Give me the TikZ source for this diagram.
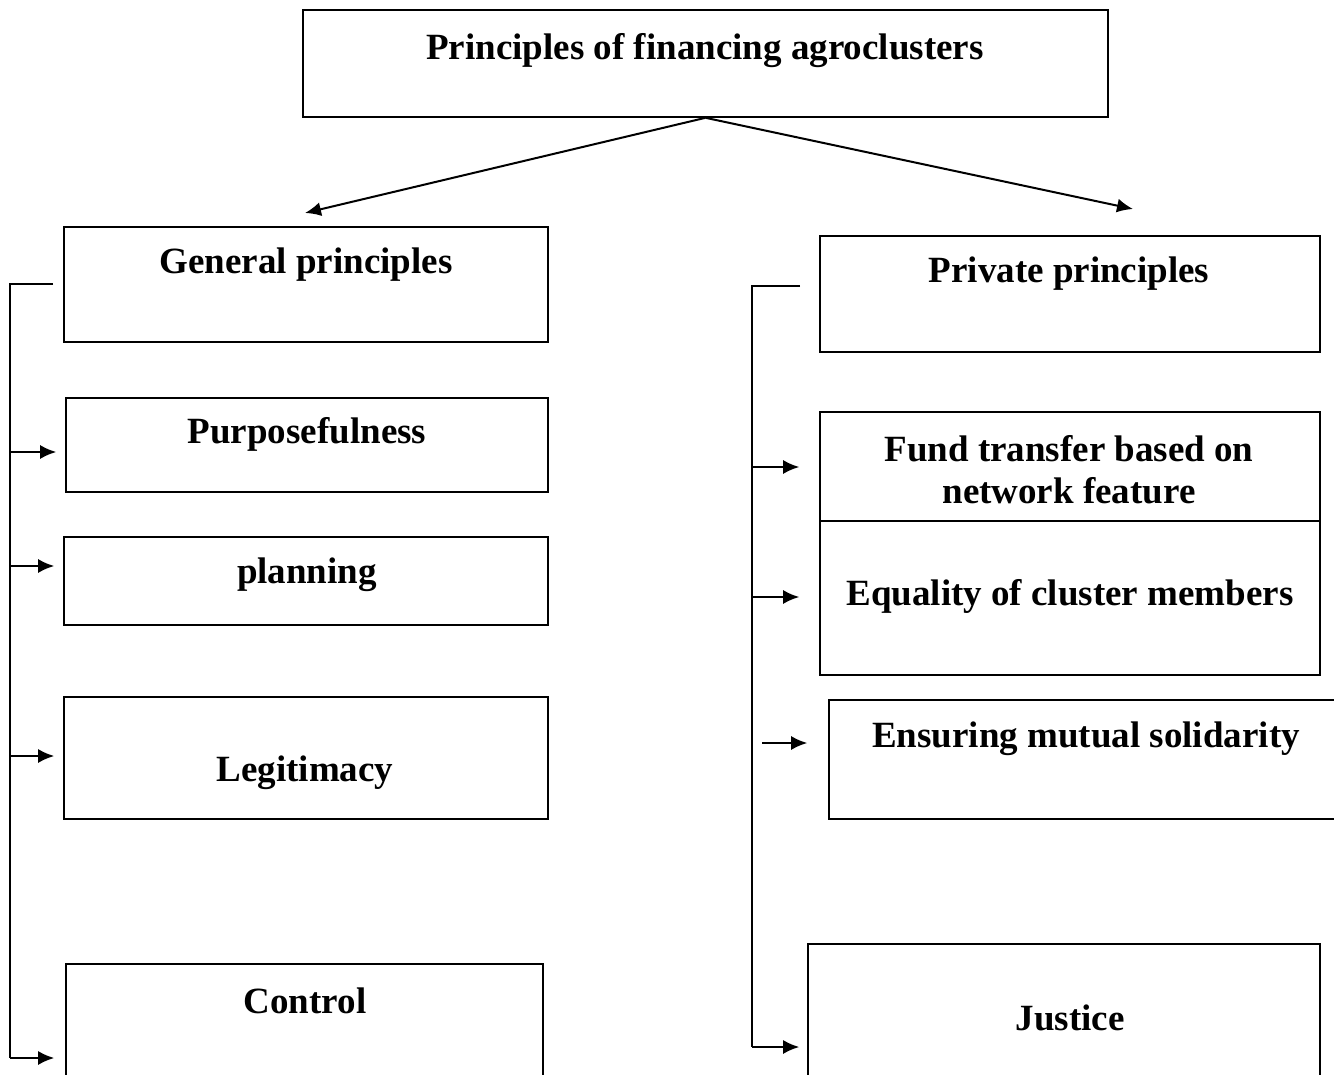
\documentclass[tikz,border=0pt]{standalone}
\usepackage{fontspec}
\setmainfont{Liberation Serif}
\usetikzlibrary{arrows.meta,fit}

\begin{document}
\begin{tikzpicture}[x=0.5pt,y=-0.5pt,line width=1pt,>={Latex[length=8pt,width=7pt]},
    box/.style={draw,inner sep=0pt,line width=0.8pt},
    lbl/.style={font=\bfseries\fontsize{18.5}{21}\selectfont,align=center}]
                \useasboundingbox (0,0) rectangle (1334,1075);
                \clip (0,0) rectangle (1334,1075);
                % top
                \node[box,fit={(303,10) (1108,117)}] (top) {};
                \node[lbl] (topt) at (705,51) {Principles of financing agroclusters};
                \coordinate (ga) at (305,213);
                \coordinate (pa) at (1133,209);
                \draw [->] (top.south) -- (ga);
                \draw [->] (top.south) -- (pa);
                % left column
                \node[box,fit={(64,227) (548,342)}] (gen) {};
                \node[lbl] (gent) at (306,265) {General principles};
                \node[box,fit={(66,398) (548,492)}] (pur) {};
                \node[lbl] (purt) at (307,434) {Purposefulness};
                \node[box,fit={(64,537) (548,625)}] (pla) {};
                \node[lbl] (plat) at (307,575) {planning};
                \node[box,fit={(64,697) (548,819)}] (leg) {};
                \node[lbl] (legt) at (305,773) {Legitimacy};
                \node[box,fit={(66,964) (543,1100)}] (con) {};
                \node[lbl] (cont) at (305,1001) {Control};
                \coordinate (l0) at (10,284);
                \coordinate (l1) at (10,452);
                \coordinate (l2) at (10,566);
                \coordinate (l3) at (10,756);
                \coordinate (l4) at (10,1058);
                \draw (53,284) -- (l0) -- (l4);
                \draw [->,shorten >=4.5pt] (l1) -- (l1 -| pur.west);
                \draw [->,shorten >=4.5pt] (l2) -- (l2 -| pla.west);
                \draw [->,shorten >=4.5pt] (l3) -- (l3 -| leg.west);
                \draw [->,shorten >=5.5pt] (l4) -- (l4 -| con.west);
                % right column
                \node[box,fit={(820,236) (1320,352)}] (pri) {};
                \node[lbl] (prit) at (1069,274) {Private principles};
                \node[box,fit={(820,412) (1320,521)}] (fun) {};
                \node[lbl] (funt) at (1069,470) {Fund transfer based on\\network feature};
                \node[box,fit={(820,521) (1320,675)}] (equ) {};
                \node[lbl] (equt) at (1070,596) {Equality of cluster members};
                \node[box,fit={(829,700) (1350,819)}] (ens) {};
                \node[lbl] (enst) at (1086,739) {Ensuring mutual solidarity};
                \node[box,fit={(808,944) (1320,1100)}] (jus) {};
                \node[lbl] (just) at (1070,1018) {Justice};
                \coordinate (r0) at (752,286);
                \coordinate (r1) at (752,467);
                \coordinate (r2) at (752,597);
                \coordinate (r3) at (762,743);
                \coordinate (r4) at (752,1047);
                \draw (800,286) -- (r0) -- (r4);
                \draw [->,shorten >=10pt] (r1) -- (r1 -| fun.west);
                \draw [->,shorten >=10pt] (r2) -- (r2 -| equ.west);
                \draw [->,shorten >=10.5pt] (r3) -- (r3 -| ens.west);
                \draw [->,shorten >=4pt] (r4) -- (r4 -| jus.west);
            \end{tikzpicture}
\end{document}
